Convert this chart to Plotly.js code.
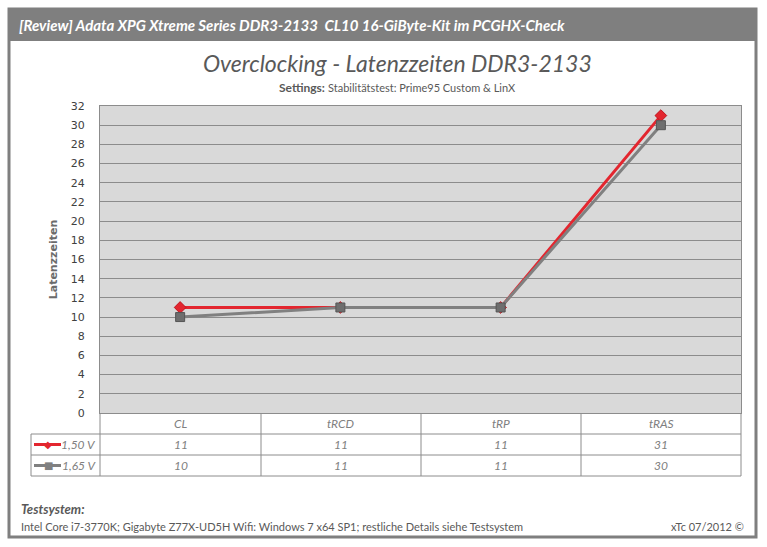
<!DOCTYPE html>
<html>
<head>
<meta charset="utf-8">
<script src="https://cdn.plot.ly/plotly-3.0.1.min.js"></script>
<style>
html,body{margin:0;padding:0;background:#ffffff;}
#chart{width:767px;height:547px;}
</style>
</head>
<body>
<div id="chart"></div>
<script>
const categories = ["CL", "tRCD", "tRP", "tRAS"];
const seriesNames = ["1,50 V", "1,65 V"];
const values150 = [11, 11, 11, 31];
const values165 = [10, 11, 11, 30];
const yTicks = [0, 2, 4, 6, 8, 10, 12, 14, 16, 18, 20, 22, 24, 26, 28, 30, 32];

const W = 767, H = 547;
const L = 100, R = 26, T = 106, B = 134;
function paperX(x){ return (x - L) / (W - L - R); }
function paperY(y){ return 1 - (y - T) / (H - T - B); }

const gray = "#7f7f7f";
const red = "#e3262f";
const gLine = "#808080";
const txt = "#595959";
const calib = "Lato, 'Open Sans', sans-serif";

const traces = [
  {
    x: categories, y: values150, name: seriesNames[0], type: "scatter", mode: "lines+markers",
    line: {color: red, width: 3},
    marker: {symbol: "diamond", size: 9, color: red, line: {color: "#c0151e", width: 1}},
    cliponaxis: false, hoverinfo: "skip"
  },
  {
    x: categories, y: values165, name: seriesNames[1], type: "scatter", mode: "lines+markers",
    line: {color: gLine, width: 3},
    marker: {symbol: "square", size: 9, color: "#6e6e6e", line: {color: "#555555", width: 1}},
    cliponaxis: false, hoverinfo: "skip"
  }
];

const shapes = [];
const annotations = [];

// outer frame
shapes.push({type: "rect", xref: "paper", yref: "paper", x0: paperX(9), x1: paperX(756), y0: paperY(9), y1: paperY(537),
  line: {color: gray, width: 3}, fillcolor: "rgba(0,0,0,0)", layer: "below"});
// header bar
shapes.push({type: "rect", xref: "paper", yref: "paper", x0: paperX(9), x1: paperX(756), y0: paperY(9), y1: paperY(41),
  line: {width: 0}, fillcolor: gray, layer: "below"});

// table lines
const colX = [100, 261, 421, 581, 741];
const tl = {color: "#8c8c8c", width: 1};
shapes.push({type: "line", xref: "paper", yref: "paper", x0: paperX(31), x1: paperX(741), y0: paperY(434), y1: paperY(434), line: tl});
shapes.push({type: "line", xref: "paper", yref: "paper", x0: paperX(31), x1: paperX(741), y0: paperY(455), y1: paperY(455), line: tl});
shapes.push({type: "line", xref: "paper", yref: "paper", x0: paperX(31), x1: paperX(741), y0: paperY(476), y1: paperY(476), line: tl});
colX.forEach(x => {
  shapes.push({type: "line", xref: "paper", yref: "paper", x0: paperX(x), x1: paperX(x), y0: paperY(413), y1: paperY(476), line: tl});
});
shapes.push({type: "line", xref: "paper", yref: "paper", x0: paperX(31), x1: paperX(31), y0: paperY(434), y1: paperY(476), line: tl});

// category labels and values in table
const tableFont = {family: calib, size: 12, color: "#808080"};
categories.forEach((c, i) => {
  const cx = (colX[i] + colX[i + 1]) / 2;
  annotations.push({xref: "paper", yref: "paper", x: paperX(cx), y: paperY(423.5), text: "<i>" + c + "</i>", showarrow: false,
    font: tableFont, xanchor: "center", yanchor: "middle"});
  annotations.push({xref: "paper", yref: "paper", x: paperX(cx), y: paperY(444.5), text: "<i>" + values150[i] + "</i>", showarrow: false,
    font: tableFont, xanchor: "center", yanchor: "middle"});
  annotations.push({xref: "paper", yref: "paper", x: paperX(cx), y: paperY(465.5), text: "<i>" + values165[i] + "</i>", showarrow: false,
    font: tableFont, xanchor: "center", yanchor: "middle"});
});
// legend keys in table
[[444.5, red, seriesNames[0], "◆"], [465.5, gLine, seriesNames[1], "■"]].forEach(([y, col, name, sym]) => {
  shapes.push({type: "line", xref: "paper", yref: "paper", x0: paperX(34), x1: paperX(61), y0: paperY(y), y1: paperY(y), line: {color: col, width: 3}});
  annotations.push({xref: "paper", yref: "paper", x: paperX(48), y: paperY(y), text: sym, showarrow: false,
    font: {family: "DejaVu Sans", size: 10, color: col}, xanchor: "center", yanchor: "middle"});
  annotations.push({xref: "paper", yref: "paper", x: paperX(98), y: paperY(y), text: "<i>" + name + "</i>", showarrow: false,
    font: tableFont, xanchor: "right", yanchor: "middle"});
});

// header text
annotations.push({xref: "paper", yref: "paper", x: paperX(17), y: paperY(25), xanchor: "left", yanchor: "middle", showarrow: false,
  text: "<b><i>[Review] Adata XPG Xtreme Series DDR3-2133  CL10 16-GiByte-Kit im PCGHX-Check</i></b>",
  font: {family: calib, size: 15, color: "#ffffff"}});
// title
annotations.push({xref: "paper", yref: "paper", x: paperX(397), y: paperY(63), xanchor: "center", yanchor: "middle", showarrow: false,
  text: "<i>Overclocking - Latenzzeiten DDR3-2133</i>",
  font: {family: calib, size: 23, color: txt}});
// subtitle
annotations.push({xref: "paper", yref: "paper", x: paperX(397), y: paperY(87), xanchor: "center", yanchor: "middle", showarrow: false,
  text: "<b>Settings:</b> <span style='font-size:11px'>Stabilitätstest: Prime95 Custom &amp; LinX</span>",
  font: {family: calib, size: 12, color: txt}});
// footer
annotations.push({xref: "paper", yref: "paper", x: paperX(19), y: paperY(509), xanchor: "left", yanchor: "middle", showarrow: false,
  text: "<b><i>Testsystem:</i></b>", font: {family: calib, size: 13, color: txt}});
annotations.push({xref: "paper", yref: "paper", x: paperX(19), y: paperY(526), xanchor: "left", yanchor: "middle", showarrow: false,
  text: "Intel Core i7-3770K; Gigabyte Z77X-UD5H Wifi: Windows 7 x64 SP1; restliche Details siehe Testsystem",
  font: {family: calib, size: 11, color: txt}});
annotations.push({xref: "paper", yref: "paper", x: paperX(746), y: paperY(526), xanchor: "right", yanchor: "middle", showarrow: false,
  text: "xTc 07/2012 ©", font: {family: calib, size: 11, color: txt}});

const layout = {
  width: W, height: H,
  margin: {l: L, r: R, t: T, b: B, pad: 0},
  paper_bgcolor: "#ffffff",
  plot_bgcolor: "#d9d9d9",
  showlegend: false,
  xaxis: {
    type: "category", categoryorder: "array", categoryarray: categories,
    range: [-0.5, 3.5], showticklabels: false, showgrid: false, zeroline: false,
    showline: true, linecolor: "#8c8c8c", linewidth: 1, mirror: true, ticks: "", fixedrange: true
  },
  yaxis: {
    range: [0, 32], tickvals: yTicks, ticktext: yTicks.map(String),
    showgrid: true, gridcolor: "#8c8c8c", gridwidth: 1, zeroline: false,
    showline: true, linecolor: "#8c8c8c", linewidth: 1, mirror: true,
    ticks: "", ticklabelstandoff: 12,
    tickfont: {family: "DejaVu Sans", size: 11, color: "#404040"},
    title: {text: "<b>Latenzzeiten</b>", font: {family: "DejaVu Sans", size: 11, color: "#6b6b6b"}, standoff: 10},
    fixedrange: true
  },
  shapes: shapes,
  annotations: annotations
};

Plotly.newPlot("chart", traces, layout, {staticPlot: true, displayModeBar: false});
</script>
</body>
</html>
